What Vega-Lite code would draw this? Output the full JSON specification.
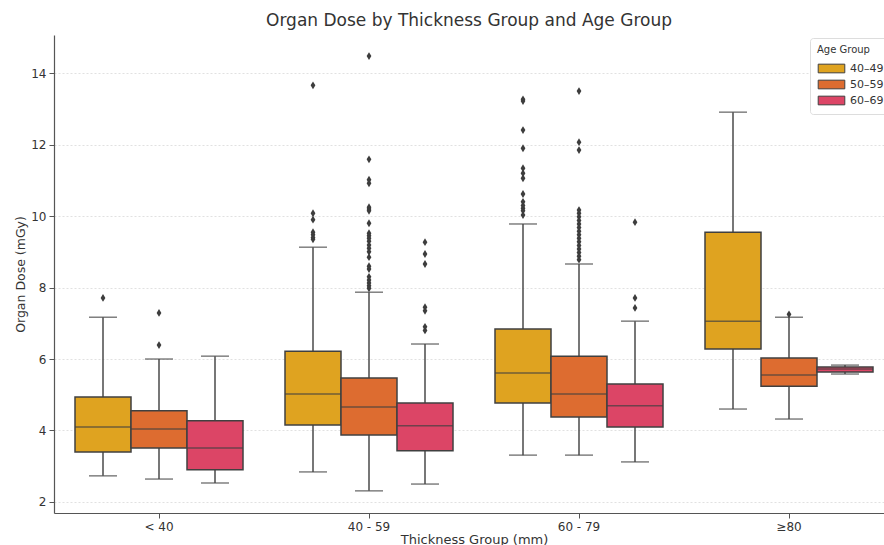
{
  "$schema": "https://vega.github.io/schema/vega-lite/v6.json",
  "autosize": {"type": "none"},
  "width": 830,
  "height": 478,
  "padding": {"left": 54, "top": 35, "right": 0, "bottom": 32},
  "background": "white",
  "title": {
    "text": "Organ Dose by Thickness Group and Age Group",
    "font": "DejaVu Sans",
    "fontSize": 17,
    "fontWeight": "normal",
    "color": "#333333",
    "anchor": "middle",
    "offset": 5
  },
  "config": {
    "view": {"stroke": null},
    "font": "DejaVu Sans",
    "axis": {
      "labelFont": "DejaVu Sans",
      "titleFont": "DejaVu Sans",
      "labelFontSize": 12,
      "titleFontSize": 12.5,
      "titleFontWeight": "normal",
      "labelColor": "#333333",
      "titleColor": "#333333",
      "domainColor": "#555555",
      "tickColor": "#555555",
      "domainWidth": 1.2
    }
  },
  "datasets": {
    "boxes": [
      {"thick": "< 40", "age": "40–49", "lower": 2.73, "q1": 3.4, "median": 4.1, "q3": 4.94, "upper": 7.17},
      {"thick": "< 40", "age": "50–59", "lower": 2.64, "q1": 3.51, "median": 4.04, "q3": 4.55, "upper": 6.0},
      {"thick": "< 40", "age": "60–69", "lower": 2.53, "q1": 2.9, "median": 3.51, "q3": 4.27, "upper": 6.08},
      {"thick": "40 - 59", "age": "40–49", "lower": 2.84, "q1": 4.15, "median": 5.02, "q3": 6.22, "upper": 9.13},
      {"thick": "40 - 59", "age": "50–59", "lower": 2.31, "q1": 3.87, "median": 4.66, "q3": 5.47, "upper": 7.87},
      {"thick": "40 - 59", "age": "60–69", "lower": 2.5, "q1": 3.43, "median": 4.13, "q3": 4.77, "upper": 6.42},
      {"thick": "60 - 79", "age": "40–49", "lower": 3.31, "q1": 4.77, "median": 5.61, "q3": 6.84, "upper": 9.78},
      {"thick": "60 - 79", "age": "50–59", "lower": 3.31, "q1": 4.38, "median": 5.02, "q3": 6.08, "upper": 8.66},
      {"thick": "60 - 79", "age": "60–69", "lower": 3.12, "q1": 4.1, "median": 4.69, "q3": 5.3, "upper": 7.06},
      {"thick": "≥80", "age": "40–49", "lower": 4.6, "q1": 6.28, "median": 7.06, "q3": 9.55, "upper": 12.91},
      {"thick": "≥80", "age": "50–59", "lower": 4.32, "q1": 5.24, "median": 5.55, "q3": 6.03, "upper": 7.17},
      {"thick": "≥80", "age": "60–69", "lower": 5.58, "q1": 5.64, "median": 5.72, "q3": 5.78, "upper": 5.83}
    ],
    "outliers": [
      {"thick": "< 40", "age": "40–49", "value": 7.71},
      {"thick": "< 40", "age": "50–59", "value": 7.29},
      {"thick": "< 40", "age": "50–59", "value": 6.39},
      {"thick": "40 - 59", "age": "40–49", "value": 13.66},
      {"thick": "40 - 59", "age": "40–49", "value": 10.08},
      {"thick": "40 - 59", "age": "40–49", "value": 9.9},
      {"thick": "40 - 59", "age": "40–49", "value": 9.55},
      {"thick": "40 - 59", "age": "40–49", "value": 9.48},
      {"thick": "40 - 59", "age": "40–49", "value": 9.4},
      {"thick": "40 - 59", "age": "40–49", "value": 9.35},
      {"thick": "40 - 59", "age": "50–59", "value": 14.48},
      {"thick": "40 - 59", "age": "50–59", "value": 11.59},
      {"thick": "40 - 59", "age": "50–59", "value": 11.02},
      {"thick": "40 - 59", "age": "50–59", "value": 10.92},
      {"thick": "40 - 59", "age": "50–59", "value": 10.25},
      {"thick": "40 - 59", "age": "50–59", "value": 10.2},
      {"thick": "40 - 59", "age": "50–59", "value": 10.15},
      {"thick": "40 - 59", "age": "50–59", "value": 9.8},
      {"thick": "40 - 59", "age": "50–59", "value": 9.52},
      {"thick": "40 - 59", "age": "50–59", "value": 9.45},
      {"thick": "40 - 59", "age": "50–59", "value": 9.38},
      {"thick": "40 - 59", "age": "50–59", "value": 9.3},
      {"thick": "40 - 59", "age": "50–59", "value": 9.19},
      {"thick": "40 - 59", "age": "50–59", "value": 9.1},
      {"thick": "40 - 59", "age": "50–59", "value": 9.0},
      {"thick": "40 - 59", "age": "50–59", "value": 8.85},
      {"thick": "40 - 59", "age": "50–59", "value": 8.6},
      {"thick": "40 - 59", "age": "50–59", "value": 8.52},
      {"thick": "40 - 59", "age": "50–59", "value": 8.3},
      {"thick": "40 - 59", "age": "50–59", "value": 8.21},
      {"thick": "40 - 59", "age": "50–59", "value": 8.13},
      {"thick": "40 - 59", "age": "50–59", "value": 8.05},
      {"thick": "40 - 59", "age": "50–59", "value": 7.98},
      {"thick": "40 - 59", "age": "60–69", "value": 9.27},
      {"thick": "40 - 59", "age": "60–69", "value": 8.94},
      {"thick": "40 - 59", "age": "60–69", "value": 8.66},
      {"thick": "40 - 59", "age": "60–69", "value": 7.45},
      {"thick": "40 - 59", "age": "60–69", "value": 7.35},
      {"thick": "40 - 59", "age": "60–69", "value": 6.9},
      {"thick": "40 - 59", "age": "60–69", "value": 6.8},
      {"thick": "60 - 79", "age": "40–49", "value": 13.27},
      {"thick": "60 - 79", "age": "40–49", "value": 13.22},
      {"thick": "60 - 79", "age": "40–49", "value": 12.41},
      {"thick": "60 - 79", "age": "40–49", "value": 11.9},
      {"thick": "60 - 79", "age": "40–49", "value": 11.34},
      {"thick": "60 - 79", "age": "40–49", "value": 11.2},
      {"thick": "60 - 79", "age": "40–49", "value": 11.06},
      {"thick": "60 - 79", "age": "40–49", "value": 10.62},
      {"thick": "60 - 79", "age": "40–49", "value": 10.4},
      {"thick": "60 - 79", "age": "40–49", "value": 10.3},
      {"thick": "60 - 79", "age": "40–49", "value": 10.22},
      {"thick": "60 - 79", "age": "40–49", "value": 10.15},
      {"thick": "60 - 79", "age": "40–49", "value": 10.03},
      {"thick": "60 - 79", "age": "50–59", "value": 13.5},
      {"thick": "60 - 79", "age": "50–59", "value": 12.07},
      {"thick": "60 - 79", "age": "50–59", "value": 11.85},
      {"thick": "60 - 79", "age": "50–59", "value": 10.17},
      {"thick": "60 - 79", "age": "50–59", "value": 10.08},
      {"thick": "60 - 79", "age": "50–59", "value": 9.98},
      {"thick": "60 - 79", "age": "50–59", "value": 9.88},
      {"thick": "60 - 79", "age": "50–59", "value": 9.78},
      {"thick": "60 - 79", "age": "50–59", "value": 9.68},
      {"thick": "60 - 79", "age": "50–59", "value": 9.58},
      {"thick": "60 - 79", "age": "50–59", "value": 9.48},
      {"thick": "60 - 79", "age": "50–59", "value": 9.38},
      {"thick": "60 - 79", "age": "50–59", "value": 9.28},
      {"thick": "60 - 79", "age": "50–59", "value": 9.18},
      {"thick": "60 - 79", "age": "50–59", "value": 9.08},
      {"thick": "60 - 79", "age": "50–59", "value": 8.98},
      {"thick": "60 - 79", "age": "50–59", "value": 8.88},
      {"thick": "60 - 79", "age": "50–59", "value": 8.78},
      {"thick": "60 - 79", "age": "60–69", "value": 9.83},
      {"thick": "60 - 79", "age": "60–69", "value": 7.71},
      {"thick": "60 - 79", "age": "60–69", "value": 7.43},
      {"thick": "≥80", "age": "50–59", "value": 7.25}
    ]
  },
  "encoding": {
    "x": {
      "field": "thick",
      "type": "nominal",
      "sort": ["< 40", "40 - 59", "60 - 79", "≥80"],
      "scale": {"range": [0, 840], "paddingInner": 0.2, "paddingOuter": 0.1},
      "axis": {
        "title": "Thickness Group (mm)",
        "titleFontSize": 13,
        "labelAngle": 0,
        "tickSize": 5,
        "labelPadding": 3,
        "titlePadding": 1,
        "grid": false
      }
    },
    "xOffset": {
      "field": "age",
      "type": "nominal",
      "sort": ["40–49", "50–59", "60–69"],
      "scale": {"paddingInner": 0, "paddingOuter": 0}
    }
  },
  "layer": [
    {
      "data": {"name": "boxes"},
      "mark": {"type": "rule", "color": "#4a4a4a", "strokeWidth": 1.5},
      "encoding": {
        "y": {
          "field": "lower",
          "type": "quantitative",
          "scale": {"domain": [1.69, 15.07], "nice": false, "zero": false},
          "axis": {
            "title": "Organ Dose (mGy)",
            "values": [2, 4, 6, 8, 10, 12, 14],
            "grid": true,
            "gridColor": "#d9d9d9",
            "gridDash": [2, 2],
            "gridWidth": 0.8,
            "tickSize": 5,
            "labelPadding": 3,
            "titlePadding": 3
          }
        },
        "y2": {"field": "upper"}
      }
    },
    {
      "data": {"name": "boxes"},
      "mark": {"type": "tick", "color": "#4a4a4a", "size": 28, "thickness": 1.5},
      "encoding": {"y": {"field": "upper", "type": "quantitative"}}
    },
    {
      "data": {"name": "boxes"},
      "mark": {"type": "tick", "color": "#4a4a4a", "size": 28, "thickness": 1.5},
      "encoding": {"y": {"field": "lower", "type": "quantitative"}}
    },
    {
      "data": {"name": "boxes"},
      "mark": {"type": "bar", "stroke": "#404040", "strokeWidth": 1.5, "opacity": 1},
      "encoding": {
        "y": {"field": "q1", "type": "quantitative"},
        "y2": {"field": "q3"},
        "fill": {
          "field": "age",
          "type": "nominal",
          "sort": ["40–49", "50–59", "60–69"],
          "scale": {"domain": ["40–49", "50–59", "60–69"], "range": ["#DFA320", "#DD6C30", "#DC4566"]},
          "legend": {
            "title": "Age Group",
            "orient": "none",
            "legendX": 756,
            "legendY": 3,
            "titleFont": "DejaVu Sans",
            "titleFontSize": 10,
            "titleFontWeight": "normal",
            "titleColor": "#333333",
            "titlePadding": 6,
            "labelFont": "DejaVu Sans",
            "labelFontSize": 11,
            "labelColor": "#333333",
            "symbolType": "M-1.9,-0.62H1.9V0.62H-1.9Z",
            "symbolSize": 196,
            "symbolOffset": 7,
            "labelOffset": 11,
            "symbolStrokeColor": "#404040",
            "symbolStrokeWidth": 1,
            "fillColor": "white",
            "strokeColor": "#dddddd",
            "cornerRadius": 3,
            "padding": 7,
            "rowPadding": 2
          }
        }
      }
    },
    {
      "data": {"name": "boxes"},
      "mark": {"type": "tick", "color": "#404040", "size": 56, "thickness": 1.5},
      "encoding": {"y": {"field": "median", "type": "quantitative"}}
    },
    {
      "data": {"name": "outliers"},
      "mark": {"type": "point", "shape": "M0,-1.3L0.8,0L0,1.3L-0.8,0Z", "filled": true, "color": "#3d3d3d", "size": 36, "opacity": 1},
      "encoding": {"y": {"field": "value", "type": "quantitative"}}
    }
  ]
}
